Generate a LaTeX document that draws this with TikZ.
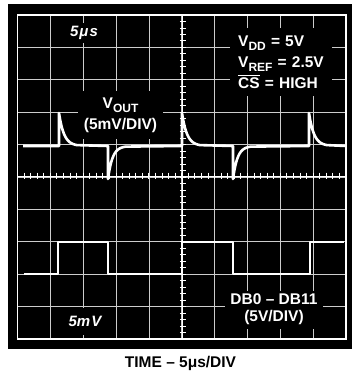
\documentclass[tikz,border=0pt]{standalone}
\usepackage{fontspec}
\setmainfont{Liberation Sans}
\newcommand{\lowsub}[1]{\raisebox{-4pt}{\fontsize{12}{12}\selectfont #1}}
\newcommand{\barred}[1]{\vbox{\hrule height 1.2pt\kern 1.4pt\hbox{#1}}}

\begin{document}
\begin{tikzpicture}[x=1pt,y=-1pt,
  gridline/.style={draw=white!80!black,line width=0.8pt},
  tickmark/.style={draw=white,line width=0.9pt},
  trace/.style={draw=white,line width=2.6pt,line join=round},
  tag/.style={fill=black,text=white,inner sep=0pt,align=center,font=\bfseries\fontsize{15.5}{21}\selectfont},
  divtag/.style={fill=black,text=white,inner sep=0pt,font=\bfseries\itshape\fontsize{15}{16}\selectfont}]
\useasboundingbox[fill=white] (0,0) rectangle (352,375);
\fill[black] (8,4) rectangle (352,349);

% graticule
\foreach \i in {1,...,9} {\draw[gridline] ({17.5+32.85*\i},15) -- ({17.5+32.85*\i},339);}
\foreach \i in {1,...,9} {\draw[gridline] (17.5,{15+32.4*\i}) -- (346,{15+32.4*\i});}
\draw[tickmark] (17.5,176) -- (346,176); %center h
\draw[tickmark] (182.75,15) -- (182.75,339); %center v
\foreach \i in {1,...,49} {\draw[tickmark] ({17.5+6.57*\i},172.7) -- ++(0,6.6);}
\foreach \i in {1,...,49} {\draw[tickmark] (179.75,{15+6.48*\i}) -- ++(6,0);}
\draw[white,line width=1.4pt] (17.5,15) rectangle (346,339);

% labels
\node[divtag,minimum width=34pt,minimum height=20pt] (tbase) at (84,33) {5\kern1ptμ\kern1pts};
\node[divtag,minimum width=40pt,minimum height=27pt] (vbase) at (85,321.5) {5m\kern1ptV};
\node[tag,minimum width=85pt,minimum height=48pt] (vout) at (120.5,115) {V\lowsub{OUT}\\(5mV/DIV)};
\node[tag,align=left,minimum width=102pt,minimum height=68pt] (supply) at (281,62) {V\lowsub{DD}\,\,=\,\,5V\\V\lowsub{REF}\,\,=\,\,2.5V\\\barred{CS}\,\,=\,\,HIGH};
\node[tag,font=\bfseries\fontsize{15.5}{17}\selectfont,minimum width=98pt,minimum height=38pt] (bus) at (274,309.5) {DB0 -- DB11\\(5V/DIV)};

% traces
\draw[trace] (23,146) -- (59,146) -- (59,113)
  -- plot[domain=0:18,samples=25] ({59+\x},{146-33*exp(-\x/5)}) -- (108,146) -- (108,179)
  -- plot[domain=0:18,samples=25] ({108+\x},{146+33*exp(-\x/4.5)}) -- (182,146) -- (182,113)
  -- plot[domain=0:18,samples=25] ({182+\x},{146-33*exp(-\x/5)}) -- (233,146) -- (233,179)
  -- plot[domain=0:18,samples=25] ({233+\x},{146+33*exp(-\x/4.5)}) -- (309,146) -- (309,113)
  -- plot[domain=0:18,samples=25] ({309+\x},{146-33*exp(-\x/5)}) -- (346,146); %vout
\draw[trace] (24,274) -- (58,274) -- (58,242) -- (108,242) -- (108,274) -- (182,274)
  -- (182,242) -- (233,242) -- (233,274) -- (310,274) -- (310,242) -- (344,242); %db

\node[anchor=base,font=\bfseries\fontsize{15.5}{17}\selectfont] (timeaxis) at (180.5,367) {TIME -- 5μs/DIV};
\end{tikzpicture}
\end{document}
